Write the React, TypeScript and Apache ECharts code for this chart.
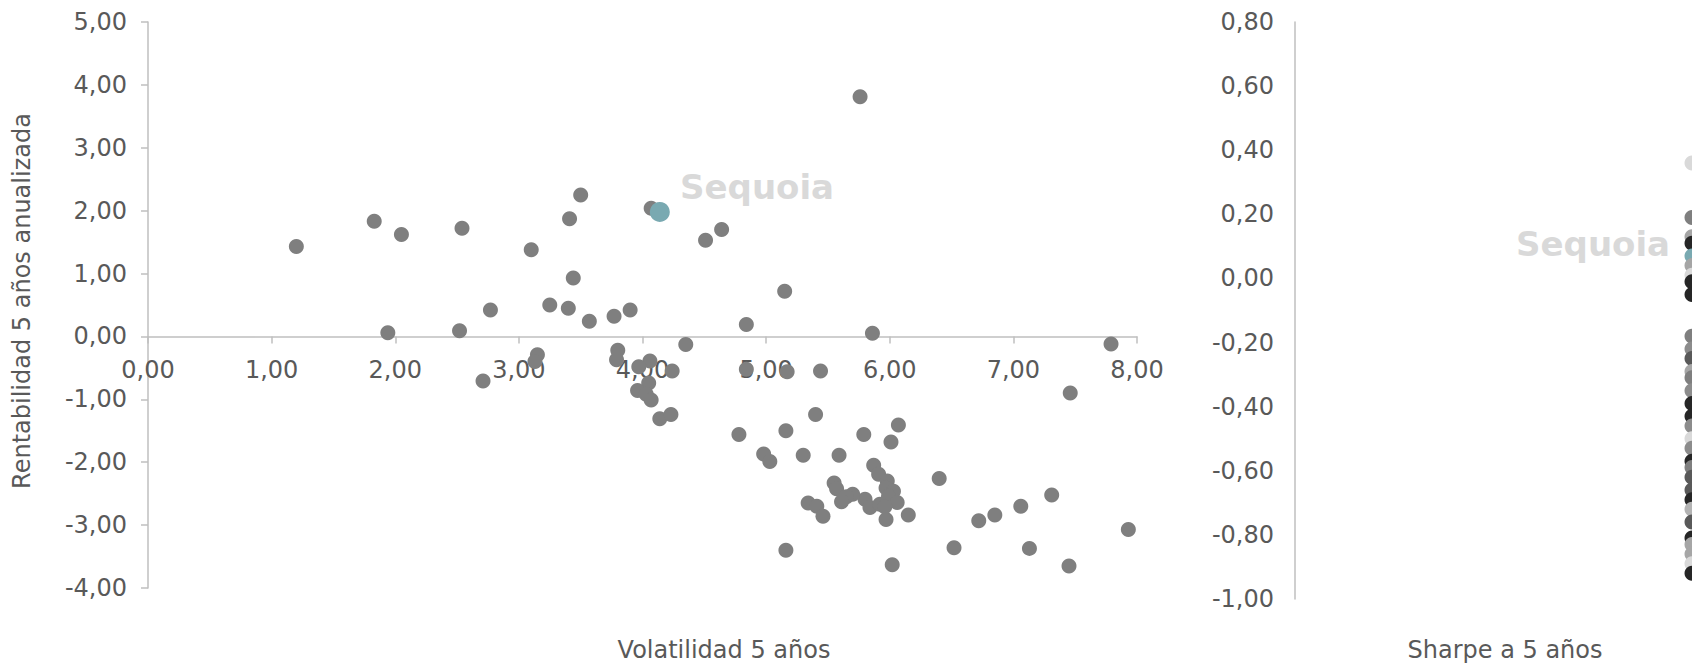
import { useEffect, useRef } from "react";
import * as echarts from "echarts";

// Left chart: volatility (x) vs annualised 5y return (y)
const volatility = [1.20, 1.83, 2.05, 1.94, 2.54, 2.52, 2.77, 2.71, 3.10, 3.15, 3.13, 3.25, 3.41, 3.50, 3.44, 3.40, 3.57, 3.77, 3.90, 3.80, 3.79, 4.07, 4.06, 3.97, 4.24, 4.05, 3.96, 4.03, 4.07, 4.14, 4.23, 4.35, 4.51, 4.64, 4.84, 4.84, 5.17, 5.44, 5.15, 5.76, 5.86, 7.79, 7.46, 5.40, 4.78, 5.16, 5.79, 6.07, 6.01, 4.98, 5.03, 5.30, 5.59, 5.87, 5.91, 5.98, 5.97, 6.03, 5.99, 6.06, 5.80, 5.84, 5.92, 5.97, 6.15, 6.40, 5.55, 5.57, 5.70, 5.65, 5.61, 5.34, 5.41, 5.46, 7.31, 7.06, 6.85, 6.72, 7.93, 6.52, 7.13, 5.16, 6.02, 7.45, 5.96];
const returns5y = [1.43, 1.83, 1.62, 0.06, 1.72, 0.09, 0.42, -0.71, 1.38, -0.29, -0.40, 0.50, 1.87, 2.25, 0.93, 0.45, 0.24, 0.32, 0.42, -0.22, -0.37, 2.04, -0.39, -0.48, -0.55, -0.74, -0.86, -0.92, -1.01, -1.31, -1.24, -0.13, 1.53, 1.70, 0.19, -0.52, -0.56, -0.55, 0.72, 3.81, 0.05, -0.12, -0.90, -1.24, -1.56, -1.50, -1.56, -1.41, -1.68, -1.87, -1.99, -1.89, -1.89, -2.05, -2.19, -2.30, -2.41, -2.46, -2.54, -2.64, -2.59, -2.72, -2.67, -2.91, -2.84, -2.26, -2.33, -2.42, -2.51, -2.55, -2.63, -2.65, -2.70, -2.86, -2.52, -2.70, -2.84, -2.93, -3.07, -3.36, -3.37, -3.40, -3.63, -3.65, -2.71];

// Highlighted fund
const highlightVolatility = [4.14];
const highlightReturn = [1.98];

// Right chart: Sharpe ratio at 5 years, one colour per point
const sharpe5y = [0.36, 0.19, 0.13, 0.11, 0.07, 0.04, 0.01, -0.01, -0.05, -0.18, -0.22, -0.25, -0.29, -0.31, -0.35, -0.39, -0.43, -0.46, -0.50, -0.53, -0.57, -0.59, -0.62, -0.66, -0.69, -0.72, -0.76, -0.81, -0.83, -0.86, -0.89, -0.92];
const sharpeColors = ["#d9d9d9", "#7f7f7f", "#a5a5a5", "#262626", "#79a9b1", "#a5a5a5", "#d9d9d9", "#262626", "#262626", "#7f7f7f", "#8c8c8c", "#595959", "#a6a6a6", "#7f7f7f", "#8c8c8c", "#262626", "#262626", "#8c8c8c", "#d9d9d9", "#8c8c8c", "#262626", "#7f7f7f", "#595959", "#595959", "#262626", "#b3b3b3", "#595959", "#262626", "#a6a6a6", "#a6a6a6", "#d9d9d9", "#262626"];

const xTitle = "Volatilidad 5 años";
const yTitle = "Rentabilidad 5 años anualizada";
const sharpeTitle = "Sharpe a 5 años";
const watermark = "Sequoia";

const fmt = (v: number) => {
  const n = Math.abs(v) < 1e-9 ? 0 : v;
  return n.toFixed(2).replace(".", ",");
};

const FONT = "DejaVu Sans";
const LABEL = "#595959";
const AXIS = "#bfbfbf";
const FS = 24;

export default function App() {
  const ref = useRef<HTMLDivElement>(null);
  useEffect(() => {
    const chart = echarts.init(ref.current!, null, { renderer: "svg" });
    const labelStyle = { color: LABEL, fontSize: FS, fontFamily: FONT, formatter: fmt };
    const plotTop = 22;
    const plotH = 566;
    const yMin = -4;
    const yMax = 5;
    // upper part of the left plot, whose bottom edge is the zero line
    const upperH = (plotH * yMax) / (yMax - yMin);
    chart.setOption({
      animation: false,
      backgroundColor: "#ffffff",
      textStyle: { fontFamily: FONT },
      grid: [
        { left: 148, top: plotTop, width: 989, height: plotH },
        { left: 1295, top: 22, width: 397, height: 577 },
        { left: 148, top: plotTop, width: 989, height: upperH },
      ],
      xAxis: [
        { type: "value", gridIndex: 0, min: 0, max: 8, interval: 1, show: false },
        { type: "value", gridIndex: 1, min: 0, max: 1, show: false },
        {
          type: "value", gridIndex: 2, min: 0, max: 8, interval: 1,
          splitLine: { show: false },
          axisLine: { show: true, onZero: false, lineStyle: { color: AXIS, width: 1.5 } },
          axisTick: { show: true, length: 7, lineStyle: { color: AXIS, width: 1.5 } },
          axisLabel: { ...labelStyle, margin: 22 },
        },
      ],
      yAxis: [
        {
          type: "value", gridIndex: 0, min: yMin, max: yMax, interval: 1,
          splitLine: { show: false },
          axisLine: { show: true, onZero: false, lineStyle: { color: AXIS, width: 1.5 } },
          axisTick: { show: true, length: 7, lineStyle: { color: AXIS, width: 1.5 } },
          axisLabel: { ...labelStyle, margin: 21 },
        },
        {
          type: "value", gridIndex: 1, min: -1, max: 0.8, interval: 0.2,
          splitLine: { show: false },
          axisLine: { show: true, onZero: false, lineStyle: { color: AXIS, width: 1.5 } },
          axisTick: { show: false },
          axisLabel: { ...labelStyle, margin: 21 },
        },
        { type: "value", gridIndex: 2, min: 0, max: yMax, show: false },
      ],
      graphic: [
        {
          type: "text", x: 680, y: 187, z: 0,
          style: { text: watermark, font: `bold 34px "${FONT}"`, fill: "#d9d9d9", align: "left", verticalAlign: "middle" },
        },
        {
          type: "text", x: 1516, y: 244, z: 0,
          style: { text: watermark, font: `bold 34px "${FONT}"`, fill: "#d9d9d9", align: "left", verticalAlign: "middle" },
        },
        {
          type: "text", x: 22, y: 301, rotation: Math.PI / 2,
          style: { text: yTitle, font: `${FS}px "${FONT}"`, fill: LABEL, align: "center", verticalAlign: "middle" },
        },
        {
          type: "text", x: 724, y: 650,
          style: { text: xTitle, font: `${FS}px "${FONT}"`, fill: LABEL, align: "center", verticalAlign: "middle" },
        },
        {
          type: "text", x: 1505, y: 650,
          style: { text: sharpeTitle, font: `${FS}px "${FONT}"`, fill: LABEL, align: "center", verticalAlign: "middle" },
        },
      ],
      series: [
        {
          type: "scatter", xAxisIndex: 0, yAxisIndex: 0, z: 3,
          symbolSize: 15,
          itemStyle: { color: "#7f7f7f", opacity: 1 },
          data: volatility.map((v, i) => [v, returns5y[i]]),
        },
        {
          type: "scatter", xAxisIndex: 0, yAxisIndex: 0, z: 4,
          symbolSize: 20,
          itemStyle: { color: "#79a9b1", opacity: 1 },
          data: highlightVolatility.map((v, i) => [v, highlightReturn[i]]),
        },
        {
          type: "scatter", xAxisIndex: 1, yAxisIndex: 1, z: 3, clip: false,
          symbolSize: 15,
          data: sharpe5y.map((s, i) => ({ value: [1, s], itemStyle: { color: sharpeColors[i], opacity: 1 } })),
        },
      ],
    });
    return () => chart.dispose();
  }, []);
  return (
    <div
      ref={ref}
      style={{ position: "absolute", left: 0, top: 0, width: 1692, height: 666, background: "#fff" }}
    />
  );
}
